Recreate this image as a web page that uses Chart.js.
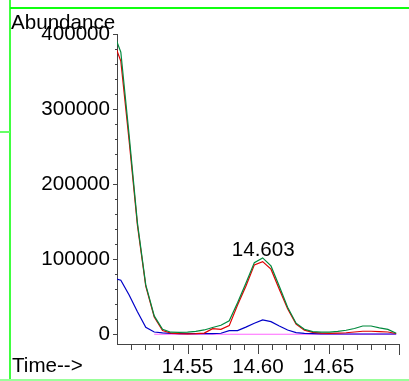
<!DOCTYPE html>
<html><head><meta charset="utf-8">
<script src="https://cdn.jsdelivr.net/npm/chart.js@4"></script>
<style>
html,body{margin:0;padding:0;background:#fff;}
#wrap{position:relative;width:409px;height:381px;overflow:hidden;background:#fff;}
canvas{position:absolute;left:0;top:0;}
.g{position:absolute;}
</style></head><body>
<div id="wrap"><canvas id="c" width="409" height="381"></canvas>
<div class="g" style="left:9px;top:0;width:2px;height:381px;background:#40ff40"></div>
<div class="g" style="left:10px;top:7px;width:399px;height:2px;background:#10ff10"></div>
<div class="g" style="left:0;top:131px;width:10px;height:2px;background:#66ff66"></div>
<div class="g" style="left:0;top:379px;width:409px;height:2px;background:#99ff99"></div>
</div>
<script>
const times = [14.4968, 14.5027, 14.5086, 14.5145, 14.5204, 14.5264, 14.5323, 14.5382, 14.5441, 14.5500,
  14.5559, 14.5619, 14.5678, 14.5737, 14.5796, 14.5855, 14.5914, 14.5974, 14.6033, 14.6092,
  14.6151, 14.6210, 14.6270, 14.6329, 14.6388, 14.6447, 14.6506, 14.6566, 14.6625, 14.6684,
  14.6743, 14.6802, 14.6861, 14.6921, 14.6980];
const greenSeries = [405000, 376000, 265000, 148000, 65700, 24400, 6500, 2700, 2400, 2700,
  3700, 5700, 9000, 12000, 18000, 42000, 68000, 95400, 101700, 91000,
  64000, 36000, 14700, 6700, 3500, 2700, 2700, 3700, 5300, 7700,
  11000, 11000, 8400, 6400, 1300];
const redSeries = [394000, 364000, 258000, 145000, 64000, 23000, 5000, 1500, 700, 600,
  800, 1500, 7500, 6500, 11500, 39000, 64000, 92400, 96800, 86700,
  60000, 34000, 13500, 5500, 2500, 1500, 1200, 1500, 2000, 3000,
  4000, 4000, 3500, 3000, 1000];
const blueSeries = [75000, 72000, 52400, 30000, 9300, 3000, 1700, 1000, 800, 800,
  800, 800, 800, 1300, 4800, 4800, 9500, 14700, 19000, 16800,
  11000, 5700, 2100, 1200, 800, 500, 300, 300, 300, 300,
  300, 300, 300, 300, 300];
const magentaSeries = [null, null, null, null, null, 0, 0, 0, 0, 0,
  0, 0, 0, 0, 0, 0, 0, 0, 0, 0,
  0, 0, 0, 0, 0, 0, 0, 0, 0, 0,
  0, 0, 0, 0, 0];
const xLabelTicks = [14.55, 14.60, 14.65];
const xMinorTicks = [14.51, 14.52, 14.53, 14.54, 14.56, 14.57, 14.58, 14.59, 14.61, 14.62, 14.63, 14.64, 14.66, 14.67, 14.68, 14.69];
const xEndTicks = [14.70];
const yLabelTicks = [0, 100000, 200000, 300000, 400000];
const yMinorTicks = [20000, 40000, 60000, 80000, 120000, 140000, 160000, 180000, 220000, 240000, 260000, 280000, 320000, 340000, 360000, 380000];
const peakTimes = [14.603];
const peakValues = [101700];
const peakTexts = ['14.603'];
const xTitle = 'Time-->';
const yTitle = 'Abundance';

const FONT = '"Liberation Sans", Arial, sans-serif';
const FS = 20.6;
const mk = arr => times.map((t, i) => ({x: t, y: arr[i]}));

const deco = {
  id: 'deco',
  afterDraw(chart) {
    const {ctx, scales: {x, y}, chartArea: a} = chart;
    ctx.save();
    ctx.strokeStyle = '#444';
    ctx.lineWidth = 1;
    ctx.beginPath();
    const vt = (v, len) => { const px = Math.round(x.getPixelForValue(v)) + 0.5; ctx.moveTo(px, a.bottom); ctx.lineTo(px, a.bottom + len); };
    const ht = (v, len) => { const py = Math.round(y.getPixelForValue(v)) + 0.5; ctx.moveTo(a.left - len, py); ctx.lineTo(a.left, py); };
    xMinorTicks.forEach(v => vt(v, 6));
    xLabelTicks.forEach(v => vt(v, 10));
    xEndTicks.forEach(v => vt(v, 11));
    yMinorTicks.forEach(v => ht(v, 2));
    yLabelTicks.forEach(v => ht(v, 4));
    ctx.stroke();
    ctx.fillStyle = '#000';
    ctx.font = FS + 'px ' + FONT;
    ctx.textBaseline = 'alphabetic';
    ctx.textAlign = 'left';
    ctx.fillText(yTitle, 11, 28.5);
    ctx.fillText(xTitle, 12, 371.5);
    ctx.textAlign = 'center';
    peakTimes.forEach((t, i) => {
      ctx.fillText(peakTexts[i], x.getPixelForValue(t) + 1, y.getPixelForValue(peakValues[i]) - 1.5);
    });
    ctx.restore();
  }
};

new Chart(document.getElementById('c'), {
  type: 'line',
  data: {
    datasets: [
      {data: mk(greenSeries), borderColor: '#00893d', order: 1},
      {data: mk(redSeries), borderColor: '#e00000', order: 2},
      {data: mk(blueSeries), borderColor: '#0000c8', order: 3},
      {data: mk(magentaSeries), borderColor: '#ff66ff', order: 4}
    ]
  },
  options: {
    responsive: false,
    animation: false,
    devicePixelRatio: 1,
    layout: {padding: {left: 0, right: 10, top: 34, bottom: 0}},
    elements: {point: {radius: 0}, line: {borderWidth: 1.2, tension: 0}},
    plugins: {legend: {display: false}, tooltip: {enabled: false}},
    scales: {
      x: {
        type: 'linear', min: 14.50, max: 14.70,
        afterBuildTicks: s => { s.ticks = xLabelTicks.map(v => ({value: v})); },
        afterFit: s => { s.height = 37; },
        ticks: {callback: v => v.toFixed(2), font: {size: FS, family: FONT}, color: '#000', padding: 11, maxRotation: 0, autoSkip: false},
        grid: {display: false, drawTicks: false, tickLength: 0},
        border: {display: true, color: '#444', width: 1}
      },
      y: {
        type: 'linear', min: -13000, max: 400000,
        afterBuildTicks: s => { s.ticks = yLabelTicks.map(v => ({value: v})); },
        afterFit: s => { s.width = 117; },
        ticks: {callback: v => String(v), font: {size: FS, family: FONT}, color: '#000', padding: 7, autoSkip: false},
        grid: {display: false, drawTicks: false, tickLength: 0},
        border: {display: true, color: '#444', width: 1}
      }
    }
  },
  plugins: [deco]
});
</script>
</body></html>
